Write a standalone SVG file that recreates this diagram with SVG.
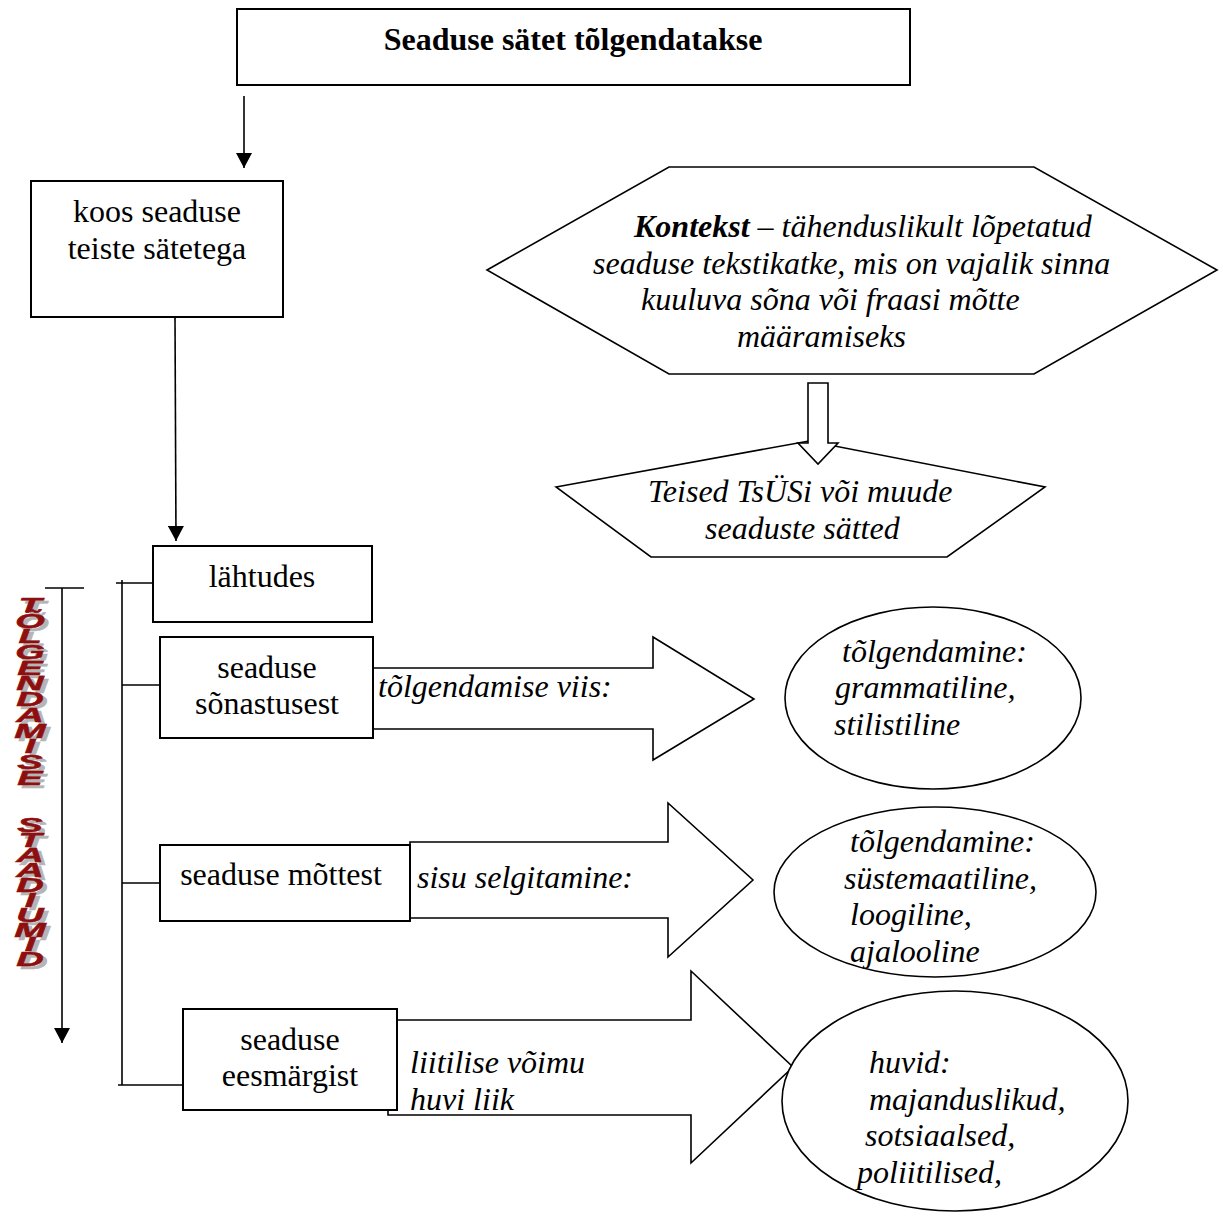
<svg xmlns="http://www.w3.org/2000/svg" xmlns:xlink="http://www.w3.org/1999/xlink" width="1223" height="1216" viewBox="0 0 1223 1216">
  <style>
    .box { fill: #fff; stroke: #000; stroke-width: 2; }
    .shape { fill: #fff; stroke: #000; stroke-width: 1.6; stroke-linejoin: miter; }
    .line { fill: none; stroke: #000; stroke-width: 1.6; }
    .t { font-family: "Liberation Serif", "Times New Roman", serif; font-size: 32px; fill: #000; }
    .c { text-anchor: middle; }
    .b { font-weight: bold; }
    .i { font-style: italic; }
    .wa { font-family: "Liberation Sans", Arial, sans-serif; font-size: 20px; font-weight: 900; font-style: italic; text-anchor: middle; }
  </style>
  <defs>
    <marker id="head" viewBox="0 0 15 16" refX="15" refY="8" markerWidth="15" markerHeight="16" markerUnits="userSpaceOnUse" orient="auto">
      <path d="M0,0 L15,8 L0,16 z" fill="#000"/>
    </marker>
    <!-- stacked letters of the vertical stage label -->
    <g id="stageLetters">
      <text class="wa" x="0" y="612">T</text>
      <text class="wa" x="0" y="628">Õ</text>
      <text class="wa" x="0" y="643">L</text>
      <text class="wa" x="0" y="659">G</text>
      <text class="wa" x="0" y="675">E</text>
      <text class="wa" x="0" y="690">N</text>
      <text class="wa" x="0" y="706">D</text>
      <text class="wa" x="0" y="722">A</text>
      <text class="wa" x="0" y="738">M</text>
      <text class="wa" x="0" y="753">I</text>
      <text class="wa" x="0" y="769">S</text>
      <text class="wa" x="0" y="785">E</text>
      <text class="wa" x="0" y="832">S</text>
      <text class="wa" x="0" y="847">T</text>
      <text class="wa" x="0" y="862">A</text>
      <text class="wa" x="0" y="877">A</text>
      <text class="wa" x="0" y="892">D</text>
      <text class="wa" x="0" y="907">I</text>
      <text class="wa" x="0" y="922">U</text>
      <text class="wa" x="0" y="937">M</text>
      <text class="wa" x="0" y="951">I</text>
      <text class="wa" x="0" y="966">D</text>
    </g>
  </defs>

  <rect width="1223" height="1216" fill="#fff"/>

  <!-- connectors -->
  <g id="connectors">
    <path class="line" d="M244,96 L244,168" marker-end="url(#head)"/>
    <path class="line" d="M175,317 L176,541" marker-end="url(#head)"/>
    <!-- stage direction arrow -->
    <path class="line" d="M45,588 L84,588"/>
    <path class="line" d="M62,588 L62,1043" marker-end="url(#head)"/>
    <!-- bracket joining the stages -->
    <path class="line" d="M122,580 L122,1085"/>
    <path class="line" d="M116,583 L153,583"/>
    <path class="line" d="M122,685 L162,685"/>
    <path class="line" d="M122,883 L160,883"/>
    <path class="line" d="M118,1085 L183,1085"/>
  </g>

  <!-- vertical stage label with drop shadow -->
  <g id="stage-label">
    <use xlink:href="#stageLetters" fill="#b5b5b5" stroke="#b5b5b5" stroke-width="0.5" transform="translate(34 3) scale(1.9 1)"/>
    <use xlink:href="#stageLetters" fill="#8e0f0f" stroke="#8e0f0f" stroke-width="0.5" transform="translate(30 0) scale(1.9 1)"/>
  </g>

  <g id="title">
    <rect class="box" x="237" y="9" width="673" height="76"/>
    <text class="t b c" x="573" y="50">Seaduse sätet tõlgendatakse</text>
  </g>

  <g id="with-other-provisions">
    <rect class="box" x="31" y="181" width="252" height="136"/>
    <text class="t c" x="157" y="222">koos seaduse</text>
    <text class="t c" x="157" y="259">teiste sätetega</text>
  </g>

  <g id="context">
    <polygon class="shape" points="487,270 669,167 1034,167 1217,270 1034,374 669,374"/>
    <text class="t i" x="634" y="237"><tspan class="b">Kontekst</tspan> – tähenduslikult lõpetatud</text>
    <text class="t i" x="593" y="274">seaduse tekstikatke, mis on vajalik sinna</text>
    <text class="t i" x="641" y="310">kuuluva sõna või fraasi mõtte</text>
    <text class="t i" x="737" y="347">määramiseks</text>
  </g>

  <g id="other-acts">
    <polygon class="shape" points="556,487 809,441 1045,487 947,557 651,557"/>
    <text class="t i" x="648" y="502">Teised TsÜSi või muude</text>
    <text class="t i" x="705" y="539">seaduste sätted</text>
  </g>

  <g id="context-arrow">
    <polygon class="shape" points="808,383 828,383 828,443 838,443 818,464 798,443 808,443"/>
  </g>

  <g id="based-on">
    <rect class="box" x="153" y="546" width="219" height="76"/>
    <text class="t c" x="262" y="587">lähtudes</text>
  </g>

  <!-- stage 1: wording -->
  <g id="wording-arrow">
    <polygon class="shape" points="365,668 653,668 653,637 754,699 653,760 653,729 365,729"/>
    <text class="t i" x="378" y="697">tõlgendamise viis:</text>
  </g>
  <g id="wording">
    <rect class="box" x="160" y="637" width="213" height="101"/>
    <text class="t c" x="267" y="678">seaduse</text>
    <text class="t c" x="267" y="714">sõnastusest</text>
  </g>
  <g id="wording-result">
    <ellipse class="shape" cx="933" cy="698" rx="148" ry="91"/>
    <text class="t i" x="842" y="662">tõlgendamine:</text>
    <text class="t i" x="835" y="698">grammatiline,</text>
    <text class="t i" x="834" y="735">stilistiline</text>
  </g>

  <!-- stage 2: meaning -->
  <g id="meaning-arrow">
    <polygon class="shape" points="410,842 668,842 668,803 753,880 668,957 668,918 410,918"/>
    <text class="t i" x="417" y="888">sisu selgitamine:</text>
  </g>
  <g id="meaning">
    <rect class="box" x="160" y="845" width="250" height="76"/>
    <text class="t c" x="281" y="885">seaduse mõttest</text>
  </g>
  <g id="meaning-result">
    <ellipse class="shape" cx="935" cy="892" rx="161" ry="85"/>
    <text class="t i" x="850" y="852">tõlgendamine:</text>
    <text class="t i" x="844" y="889">süstemaatiline,</text>
    <text class="t i" x="850" y="925">loogiline,</text>
    <text class="t i" x="850" y="962">ajalooline</text>
  </g>

  <!-- stage 3: purpose -->
  <g id="purpose-arrow">
    <polygon class="shape" points="388,1020 691,1020 691,971 793,1067 691,1163 691,1115 388,1115"/>
    <text class="t i" x="410" y="1073">liitilise võimu</text>
    <text class="t i" x="410" y="1110">huvi liik</text>
  </g>
  <g id="purpose">
    <rect class="box" x="183" y="1009" width="214" height="101"/>
    <text class="t c" x="290" y="1050">seaduse</text>
    <text class="t c" x="290" y="1086">eesmärgist</text>
  </g>
  <g id="purpose-result">
    <ellipse class="shape" cx="955" cy="1101" rx="173" ry="110"/>
    <text class="t i" x="869" y="1073">huvid:</text>
    <text class="t i" x="869" y="1110">majanduslikud,</text>
    <text class="t i" x="865" y="1146">sotsiaalsed,</text>
    <text class="t i" x="857" y="1183">poliitilised,</text>
  </g>
</svg>
